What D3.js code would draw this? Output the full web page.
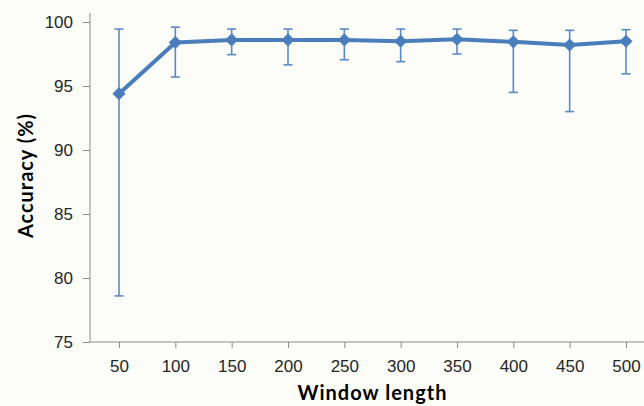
<!DOCTYPE html>
<html>
<head>
<meta charset="utf-8">
<script src="https://cdn.jsdelivr.net/npm/d3@7"></script>
<style>
	body { margin: 0; background: #fcfcf8; }
	svg { display: block; font-family: Lato, 'Open Sans', sans-serif; }
</style>
</head>
<body>
<div id="chart"></div>
<script>
// window lengths on the x axis
const windowLengths = [50, 100, 150, 200, 250, 300, 350, 400, 450, 500];
// mean accuracy (%)
const accuracy = [94.4, 98.4, 98.6, 98.6, 98.6, 98.5, 98.65, 98.45, 98.2, 98.5];
// error bar ends
const errHigh = [99.45, 99.6, 99.45, 99.45, 99.45, 99.45, 99.45, 99.35, 99.35, 99.4];
const errLow = [78.6, 95.7, 97.45, 96.65, 97.05, 96.9, 97.5, 94.5, 93.0, 95.95];
const yTicks = [75, 80, 85, 90, 95, 100];

const width = 644;
const height = 406;

const svg = d3.select('#chart').append('svg')
	.attr('width', width)
	.attr('height', height);

//
// scales
//
const x = d3.scaleLinear().domain([50, 500]).range([119, 626]);
const y = d3.scaleLinear().domain([75, 100]).range([342, 22]);

const axisColor = '#8a8a8a';
const blue = '#4a7ebb';

//
// y axis
//
const yAxis = svg.append('g')
	.attr('transform', 'translate(90,0)')
	.call(d3.axisLeft(y).tickValues(yTicks).tickSize(7).tickPadding(10).tickSizeOuter(0));
yAxis.select('.domain').attr('stroke', axisColor).attr('d', 'M0,' + y(75) + 'V' + (y(100) - 9));
yAxis.selectAll('.tick line').attr('stroke', axisColor);
yAxis.selectAll('.tick text')
	.attr('fill', '#262626')
	.style('font-size', '17px');

//
// x axis
//
const xAxis = svg.append('g')
	.attr('transform', 'translate(0,' + y(75) + ')')
	.call(d3.axisBottom(x).tickValues(windowLengths).tickSize(6).tickPadding(12).tickSizeOuter(0));
xAxis.select('.domain').attr('stroke', axisColor).attr('d', 'M90,0H' + width);
xAxis.selectAll('.tick line').attr('stroke', axisColor);
xAxis.selectAll('.tick text')
	.attr('fill', '#262626')
	.style('font-size', '17px');

//
// error bars
//
const bars = svg.append('g').selectAll('g')
	.data(windowLengths)
	.enter()
	.append('g')
	.attr('stroke', '#5a8ac6')
	.attr('stroke-width', 1.6);

bars.append('line')
	.attr('x1', (d) => x(d))
	.attr('x2', (d) => x(d))
	.attr('y1', (d, i) => y(errHigh[i]))
	.attr('y2', (d, i) => y(errLow[i]));
bars.append('line')
	.attr('x1', (d) => x(d) - 4.5)
	.attr('x2', (d) => x(d) + 4.5)
	.attr('y1', (d, i) => y(errHigh[i]))
	.attr('y2', (d, i) => y(errHigh[i]));
bars.append('line')
	.attr('x1', (d) => x(d) - 4.5)
	.attr('x2', (d) => x(d) + 4.5)
	.attr('y1', (d, i) => y(errLow[i]))
	.attr('y2', (d, i) => y(errLow[i]));

//
// line + diamond markers
//
const line = d3.line()
	.x((d, i) => x(windowLengths[i]))
	.y((d) => y(d));

svg.append('path')
	.datum(accuracy)
	.attr('fill', 'none')
	.attr('stroke', blue)
	.attr('stroke-width', 4)
	.attr('stroke-linejoin', 'round')
	.attr('d', line);

svg.append('g').selectAll('path')
	.data(accuracy)
	.enter()
	.append('path')
	.attr('transform', (d, i) => 'translate(' + x(windowLengths[i]) + ',' + y(d) + ')')
	.attr('d', d3.symbol().type(d3.symbolDiamond2).size(110))
	.attr('fill', blue);

//
// axis titles
//
svg.append('text')
	.attr('x', 372)
	.attr('y', 400)
	.attr('text-anchor', 'middle')
	.attr('fill', '#000')
	.style('font-size', '20px')
	.style('font-weight', 'bold')
	.attr('textLength', 149)
	.text('Window length');

svg.append('text')
	.attr('transform', 'translate(33,176) rotate(-90)')
	.attr('text-anchor', 'middle')
	.attr('fill', '#000')
	.style('font-size', '20px')
	.style('font-weight', 'bold')
	.attr('textLength', 124)
	.text('Accuracy (%)');
</script>
</body>
</html>
